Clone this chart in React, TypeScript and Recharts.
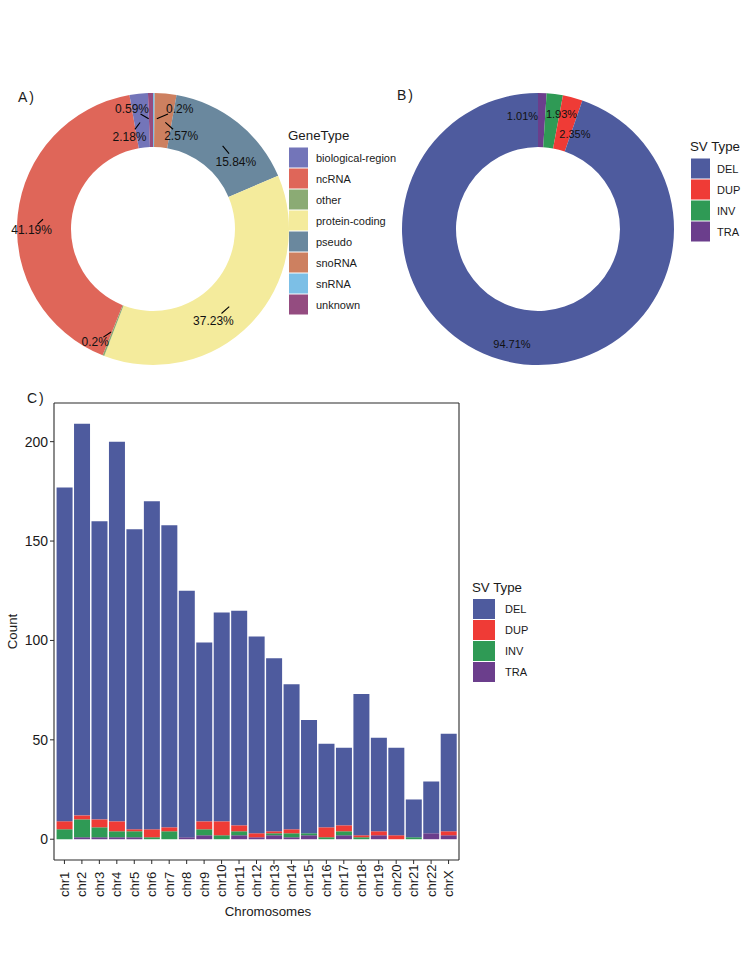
import React from "react";
import { PieChart, Pie, Cell, BarChart, Bar, XAxis, YAxis } from "recharts";

// gene type breakdown (percent)
const geneTypes = ["biological-region", "ncRNA", "other", "protein-coding", "pseudo", "snoRNA", "snRNA", "unknown"];
const genePercents = [2.18, 41.19, 0.2, 37.23, 15.84, 2.57, 0.2, 0.59];
const geneColors = ["#7375b9", "#df6659", "#8bab74", "#f4eb9c", "#6a889e", "#cd8060", "#7cbfe6", "#944c80"];
// clockwise from 12 o'clock, as in the figure
const geneDrawOrder = ["snRNA", "snoRNA", "pseudo", "protein-coding", "other", "ncRNA", "biological-region", "unknown"];

// SV type breakdown (percent)
const svTypes = ["DEL", "DUP", "INV", "TRA"];
const svPercents = [94.71, 2.35, 1.93, 1.01];
const svColors = ["#4e5b9e", "#ef3b36", "#2f9a55", "#6b3e8c"];
const svDrawOrder = ["TRA", "INV", "DUP", "DEL"];

// SV counts per chromosome
const chromosomes = ["chr1", "chr2", "chr3", "chr4", "chr5", "chr6", "chr7", "chr8", "chr9", "chr10", "chr11", "chr12", "chr13", "chr14", "chr15", "chr16", "chr17", "chr18", "chr19", "chr20", "chr21", "chr22", "chrX"];
const delCounts = [168, 197, 150, 191, 151, 165, 152, 124, 90, 105, 108, 99, 87, 73, 57, 42, 39, 71, 47, 44, 19, 26, 49];
const dupCounts = [4, 2, 4, 5, 1, 4, 2, 0, 4, 7, 3, 2, 1, 2, 0, 5, 3, 1, 2, 2, 0, 0, 2];
const invCounts = [5, 9, 5, 3, 3, 1, 4, 0, 3, 2, 2, 0, 1, 2, 1, 1, 2, 1, 0, 0, 1, 0, 0];
const traCounts = [0, 1, 1, 1, 1, 0, 0, 1, 2, 0, 2, 1, 2, 1, 2, 0, 2, 0, 2, 0, 0, 3, 2];
const countTicks = [0, 50, 100, 150, 200];

// label nudges (repel-style), in draw order
const geneNudge = [[26, -11], [18, 16], [15, 18], [-18, 16], [-18, 12], [-13, 12], [-12, 16], [-19, -11]];
const svNudge = [[-19, -4], [10, -7], [9, 10], [-8, 8]];

const FONT = "'Liberation Sans', Arial, Helvetica, sans-serif";
const RADIAN = Math.PI / 180;
const TXT = "#1a1a1a";
const FRAME = "#2b2b2b";

const geneData = geneDrawOrder.map((n) => {
  const i = geneTypes.indexOf(n);
  return { name: n, value: genePercents[i], fill: geneColors[i] };
});
const svData = svDrawOrder.map((n) => {
  const i = svTypes.indexOf(n);
  return { name: n, value: svPercents[i], fill: svColors[i] };
});
const barData = chromosomes.map((c, i) => ({
  chrom: c,
  DEL: delCounts[i],
  DUP: dupCounts[i],
  INV: invCounts[i],
  TRA: traCounts[i],
}));

const maxTotal = Math.max(...barData.map((d) => d.DEL + d.DUP + d.INV + d.TRA));
const yDomain = [-maxTotal * 0.05, maxTotal * 1.05];

function makeLabel(nudge: number[][], fontSize: number, leader: boolean) {
  return (p: any) => {
    const r = (p.innerRadius + p.outerRadius) / 2;
    const ax = p.cx + r * Math.cos(-p.midAngle * RADIAN);
    const ay = p.cy + r * Math.sin(-p.midAngle * RADIAN);
    const [dx, dy] = nudge[p.index];
    return (
      <g key={`lbl-${p.index}`}>
        {leader && (
          <line
            x1={ax + dx * 0.12}
            y1={ay + dy * 0.12}
            x2={ax + dx * 0.55}
            y2={ay + dy * 0.55}
            stroke="#000"
            strokeWidth={1.1}
          />
        )}
        <text x={ax + dx} y={ay + dy} textAnchor="middle" dominantBaseline="central" fontSize={fontSize} fill="#111">
          {`${p.value}%`}
        </text>
      </g>
    );
  };
}

const ChromTick = ({ x, y, payload }: any) => (
  <text
    transform={`translate(${x},${y + 31}) rotate(-90)`}
    textAnchor="start"
    dy="0.35em"
    fontSize={13}
    fill={TXT}
  >
    {payload.value}
  </text>
);

function LegendBlock({ x, y, title, names, colors, keyW, keyH, step, labelDx }: any) {
  return (
    <g>
      <text x={x - 1} y={y} fontSize={13.3} fill={TXT}>
        {title}
      </text>
      {names.map((n: string, i: number) => (
        <g key={n}>
          <rect x={x} y={y + 7.5 + i * step} width={keyW} height={keyH} fill={colors[i]} />
          <text x={x + labelDx} y={y + 7.5 + i * step + keyH / 2} dominantBaseline="central" fontSize={11} fill={TXT}>
            {n}
          </text>
        </g>
      ))}
    </g>
  );
}

export default function App() {
  return (
    <div style={{ position: "absolute", left: 0, top: 0, width: 750, height: 971, background: "#fff", fontFamily: FONT }}>
      <div style={{ position: "absolute", left: 0, top: 74 }}>
        <PieChart width={300} height={300}>
          <Pie
            data={geneData}
            dataKey="value"
            cx={148}
            cy={150}
            innerRadius={82}
            outerRadius={136}
            startAngle={90}
            endAngle={-270}
            stroke="none"
            isAnimationActive={false}
            labelLine={false}
            label={makeLabel(geneNudge, 12, true)}
          >
            {geneData.map((d) => (
              <Cell key={d.name} fill={d.fill} />
            ))}
          </Pie>
        </PieChart>
      </div>

      <div style={{ position: "absolute", left: 383, top: 74 }}>
        <PieChart width={300} height={300}>
          <Pie
            data={svData}
            dataKey="value"
            cx={150}
            cy={150}
            innerRadius={82}
            outerRadius={136}
            startAngle={90}
            endAngle={-270}
            stroke="none"
            isAnimationActive={false}
            labelLine={false}
            label={makeLabel(svNudge, 11, false)}
          >
            {svData.map((d) => (
              <Cell key={d.name} fill={d.fill} />
            ))}
          </Pie>
        </PieChart>
      </div>

      <div style={{ position: "absolute", left: 0, top: 380 }}>
        <BarChart
          width={480}
          height={560}
          data={barData}
          margin={{ top: 22, right: 20, bottom: 20, left: 0 }}
          barCategoryGap="5%"
        >
          <XAxis
            dataKey="chrom"
            interval={0}
            height={60}
            padding={{ left: 1.7, right: 1.7 }}
            tick={<ChromTick />}
            tickSize={4}
            axisLine={{ stroke: FRAME, strokeWidth: 1.1 }}
            tickLine={{ stroke: FRAME }}
          />
          <XAxis
            xAxisId="top"
            orientation="top"
            dataKey="chrom"
            height={1}
            tick={false}
            tickLine={false}
            axisLine={{ stroke: FRAME, strokeWidth: 1.1 }}
          />
          <YAxis
            width={54}
            domain={yDomain}
            ticks={countTicks}
            allowDataOverflow
            tickSize={4}
            tick={{ fontSize: 14, fill: TXT }}
            axisLine={{ stroke: FRAME, strokeWidth: 1.1 }}
            tickLine={{ stroke: FRAME }}
          />
          <YAxis
            yAxisId="right"
            orientation="right"
            width={1}
            domain={yDomain}
            allowDataOverflow
            tick={false}
            tickLine={false}
            axisLine={{ stroke: FRAME, strokeWidth: 1.1 }}
          />
          <Bar dataKey="TRA" stackId="sv" fill={svColors[3]} isAnimationActive={false} />
          <Bar dataKey="INV" stackId="sv" fill={svColors[2]} isAnimationActive={false} />
          <Bar dataKey="DUP" stackId="sv" fill={svColors[1]} isAnimationActive={false} />
          <Bar dataKey="DEL" stackId="sv" fill={svColors[0]} isAnimationActive={false} />
        </BarChart>
      </div>

      <svg width={750} height={971} style={{ position: "absolute", left: 0, top: 0, pointerEvents: "none" }}>
        <text x={18} y={102} fontSize={14} letterSpacing={2} fill={TXT}>A)</text>
        <text x={397} y={100} fontSize={14} letterSpacing={2} fill={TXT}>B)</text>
        <text x={27} y={403} fontSize={14} letterSpacing={2} fill={TXT}>C)</text>

        <LegendBlock x={289} y={140} title="GeneType" names={geneTypes} colors={geneColors} keyW={19} keyH={20} step={21} labelDx={27} />
        <LegendBlock x={691} y={151} title="SV Type" names={svTypes} colors={svColors} keyW={19} keyH={20} step={21} labelDx={26} />
        <LegendBlock x={473} y={591.5} title="SV Type" names={svTypes} colors={svColors} keyW={22} keyH={20} step={21} labelDx={32} />

        <text transform="translate(17,631.5) rotate(-90)" textAnchor="middle" fontSize={13.3} fill={TXT}>Count</text>
        <text x={268} y={916} textAnchor="middle" fontSize={13.3} fill={TXT}>Chromosomes</text>
      </svg>
    </div>
  );
}
